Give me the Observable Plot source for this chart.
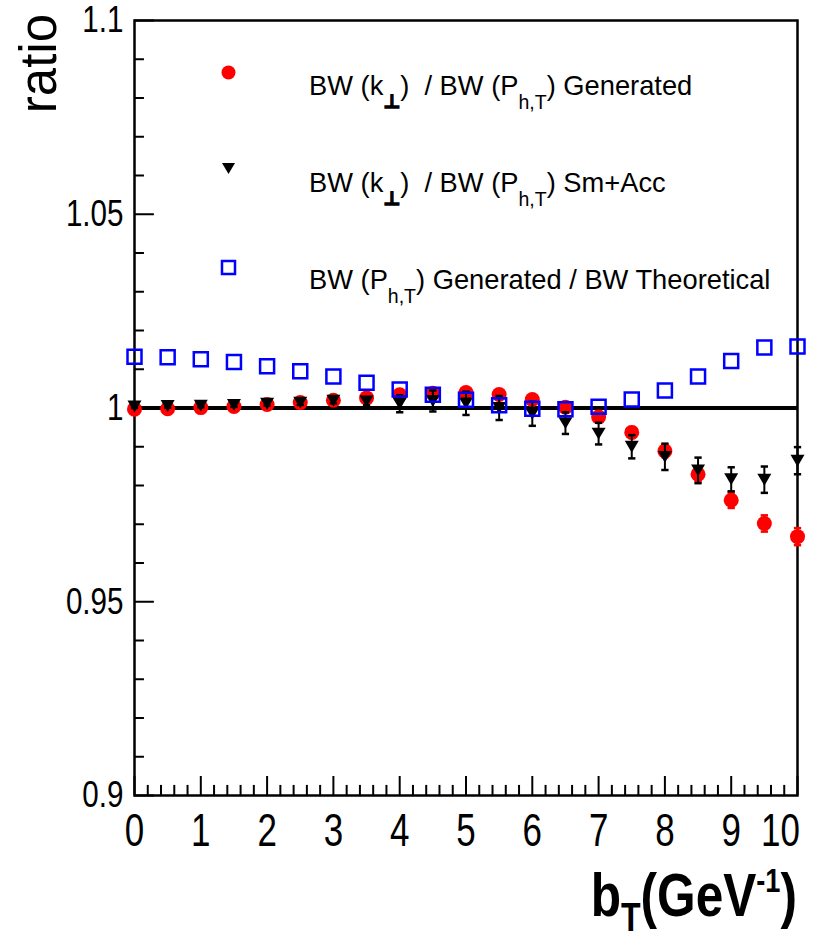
<!DOCTYPE html>
<html><head><meta charset="utf-8">
<script src="https://cdn.jsdelivr.net/npm/d3@7"></script>
<script src="https://cdn.jsdelivr.net/npm/@observablehq/plot@0.6"></script>
<style>body{margin:0;background:#fff}</style>
</head><body><div id="chart"></div>
<script>
// ---- data ----
const bT = [0,0.5,1,1.5,2,2.5,3,3.5,4,4.5,5,5.5,6,6.5,7,7.5,8,8.5,9,9.5,10];
const ratioGenerated = [0.9997,0.9998,1.0001,1.0004,1.0009,1.0014,1.0020,1.0026,1.0034,1.0038,1.0040,1.0035,1.0022,1.0002,0.9977,0.9937,0.9889,0.9829,0.9762,0.9702,0.9668];
const errGenerated   = [0.0004,0.0004,0.0004,0.0004,0.0005,0.0005,0.0006,0.0006,0.0007,0.0007,0.0008,0.0009,0.0010,0.0011,0.0012,0.0014,0.0016,0.0018,0.0020,0.0021,0.0022];
const ratioSmAcc     = [1.0004,1.0005,1.0006,1.0008,1.0011,1.0014,1.0019,1.0017,1.0011,1.0018,1.0012,1.0000,0.9985,0.9961,0.9934,0.9900,0.9874,0.9839,0.9816,0.9815,0.9864];
const errSmAcc       = [0.0004,0.0004,0.0004,0.0005,0.0005,0.0006,0.0007,0.0010,0.0022,0.0027,0.0030,0.0031,0.0031,0.0028,0.0028,0.0030,0.0034,0.0033,0.0031,0.0034,0.0035];
const ratioTheory    = [1.0132,1.0131,1.0126,1.0119,1.0108,1.0095,1.0081,1.0065,1.0048,1.0034,1.0021,1.0007,0.9998,0.9997,1.0003,1.0022,1.0045,1.0081,1.0121,1.0156,1.0159];

const xMajorTicks = [0,1,2,3,4,5,6,7,8,9,10];
const xTickLabels = ["0","1","2","3","4","5","6","7","8","9","10"];
const xMinorTicks = [0.2,0.4,0.6,0.8,1.2,1.4,1.6,1.8,2.2,2.4,2.6,2.8,3.2,3.4,3.6,3.8,4.2,4.4,4.6,4.8,5.2,5.4,5.6,5.8,6.2,6.4,6.6,6.8,7.2,7.4,7.6,7.8,8.2,8.4,8.6,8.8,9.2,9.4,9.6,9.8];
const yMajorTicks = [0.9,0.95,1,1.05,1.1];
const yTickLabels = ["0.9","0.95","1","1.05","1.1"];
const yMinorTicks = [0.91,0.92,0.93,0.94,0.96,0.97,0.98,0.99,1.01,1.02,1.03,1.04,1.06,1.07,1.08,1.09];

const yTitle = "ratio";

// ---- tables ----
const generated = bT.map((x,i)=>({x, y: ratioGenerated[i], e: errGenerated[i]}));
const smAcc = bT.map((x,i)=>({x, y: ratioSmAcc[i], e: errSmAcc[i]}));
const theory = bT.map((x,i)=>({x, y: ratioTheory[i]}));

// custom symbols
const triDown = {draw(ctx, size){ const r = Math.sqrt(size/Math.PI); ctx.moveTo(-r,-0.85*r); ctx.lineTo(r,-0.85*r); ctx.lineTo(0,0.85*r); ctx.closePath(); }};
const squareSym = {draw(ctx, size){ const r = Math.sqrt(size/Math.PI); ctx.rect(-r,-r,2*r,2*r); }};

const SANS = "'Liberation Sans',Arial,Helvetica,sans-serif";

const capHalf = 0.055;
const xMajLen = 0.0049, xMinLen = 0.0026;
const yMajLen = 0.30, yMinLen = 0.15;

function errMarks(data, color){
  return [
    Plot.ruleX(data, {x:"x", y1:d=>d.y-d.e, y2:d=>d.y+d.e, stroke:color, strokeWidth:2}),
    Plot.link(data, {x1:d=>d.x-capHalf, x2:d=>d.x+capHalf, y1:d=>d.y+d.e, y2:d=>d.y+d.e, stroke:color, strokeWidth:2.5}),
    Plot.link(data, {x1:d=>d.x-capHalf, x2:d=>d.x+capHalf, y1:d=>d.y-d.e, y2:d=>d.y-d.e, stroke:color, strokeWidth:2.5})
  ];
}

const svgNode = Plot.plot({
  width: 826, height: 939,
  marginLeft: 134, marginRight: 29, marginTop: 20, marginBottom: 144,
  x: {domain:[0,10]},
  y: {domain:[0.9,1.1]},
  style: {background:"white", color:"black"},
  marks: [
    Plot.axisX(xMajorTicks, {tickSize:0, tickPadding:18, tickFormat:d=>xTickLabels[xMajorTicks.indexOf(d)], fontSize:46, fontFamily:SANS, label:null}),
    Plot.axisY(yMajorTicks, {tickSize:0, tickPadding:11, tickFormat:d=>yTickLabels[yMajorTicks.findIndex(v=>Math.abs(v-d)<1e-9)], fontSize:37, fontFamily:SANS, label:null}),
    Plot.ruleX(xMajorTicks, {x:d=>d, y1:0.9, y2:0.9+xMajLen, stroke:"black", strokeWidth:2}),
    Plot.ruleX(xMinorTicks, {x:d=>d, y1:0.9, y2:0.9+xMinLen, stroke:"black", strokeWidth:2}),
    Plot.ruleY(yMajorTicks, {y:d=>d, x1:0, x2:yMajLen, stroke:"black", strokeWidth:2}),
    Plot.ruleY(yMinorTicks, {y:d=>d, x1:0, x2:yMinLen, stroke:"black", strokeWidth:2}),
    Plot.frame({stroke:"black", strokeWidth:2.5}),
    Plot.ruleY([1], {stroke:"black", strokeWidth:4}),
    ...errMarks(generated, "#ff0000"),
    Plot.dot(generated, {x:"x", y:"y", r:7.5, fill:"#ff0000", stroke:"none"}),
    ...errMarks(smAcc, "black"),
    Plot.dot(smAcc, {x:"x", y:"y", r:7, symbol:triDown, fill:"black", stroke:"none"}),
    Plot.dot(theory, {x:"x", y:"y", r:7, symbol:squareSym, fill:"none", stroke:"#0000ff", strokeWidth:2.5}),
    // legend markers
    Plot.dot([0], {frameAnchor:"top-left", dx:94, dy:52, r:7, fill:"#ff0000", stroke:"none"}),
    Plot.dot([0], {frameAnchor:"top-left", dx:94, dy:148, r:6.5, symbol:triDown, fill:"black", stroke:"none"}),
    Plot.dot([0], {frameAnchor:"top-left", dx:94, dy:247, r:6.5, symbol:squareSym, fill:"none", stroke:"#0000ff", strokeWidth:2.5})
  ]
});
document.getElementById("chart").appendChild(svgNode);
const svg = d3.select(svgNode);

// horizontally condense axis tick labels (the reference uses a condensed face)
function squeeze(selector, s){
  svg.selectAll(selector).each(function(){
    const len = this.getComputedTextLength();
    if (len > 0){
      this.setAttribute("textLength", (len*s).toFixed(2));
      this.setAttribute("lengthAdjust", "spacingAndGlyphs");
    }
  });
}
squeeze('g[aria-label="x-axis tick label"] text', 0.76);
squeeze('g[aria-label="y-axis tick label"] text', 0.8);
// the last x label is kept inside the frame, as in the reference
svg.selectAll('g[aria-label="x-axis tick label"] text').filter(function(){ return this.textContent === xTickLabels[xTickLabels.length-1]; })
  .attr("dx", -17);

function rich(x, y, parts, o){
  const t = svg.append("text")
    .attr("transform", `translate(${x},${y}) scale(${o.sx||1},1)`)
    .attr("font-size",o.size).attr("font-family",o.family)
    .attr("font-weight",o.weight||"normal").attr("text-anchor",o.anchor||"start")
    .attr("fill","black").style("white-space","pre");
  let shift = 0;
  for (const p of parts){
    const ts = t.append("tspan").text(p.t);
    const target = p.dy||0;
    if (target !== shift){ ts.attr("dy", target-shift); shift = target; }
    if (p.size) ts.attr("font-size", p.size);
    if (p.weight) ts.attr("font-weight", p.weight);
    if (p.family) ts.attr("font-family", p.family);
    if (p.thick) ts.attr("stroke","black").attr("stroke-width",p.thick);
  }
  return t;
}

// legend text
const perp = {t:"⊥",dy:13,size:19,weight:"bold",family:"'DejaVu Sans',sans-serif",thick:1.4};
const legendLines = [
  [{t:"BW (k"},perp,{t:")  / BW (P"},{t:"h,T",dy:14,size:20},{t:") Generated"}],
  [{t:"BW (k"},perp,{t:")  / BW (P"},{t:"h,T",dy:14,size:20},{t:") Sm+Acc"}],
  [{t:"BW (P"},{t:"h,T",dy:14,size:20},{t:") Generated / BW Theoretical"}]
];
const legendBaselines = [95, 192, 289];
legendLines.forEach((parts,i)=> rich(309, legendBaselines[i], parts, {size:28, family:SANS, sx:0.975}));

// y title
svg.append("text").attr("transform","translate(56,14) rotate(-90)").attr("text-anchor","end")
  .attr("font-size",51).attr("font-family",SANS).attr("fill","black").text(yTitle);

// x title
rich(797, 916, [{t:"b"},{t:"T",dy:15,size:40},{t:"(GeV"},{t:"-1",dy:-24,size:34},{t:")"}],
  {size:62, family:SANS, weight:"bold", anchor:"end", sx:0.8});
</script>
</body></html>
